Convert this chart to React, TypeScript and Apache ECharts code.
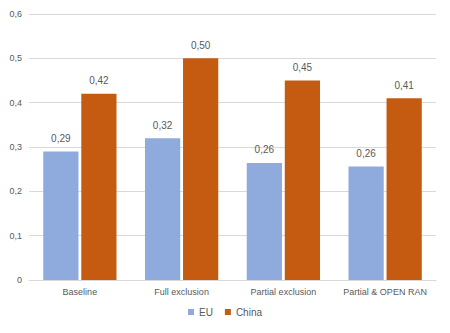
import React, { useEffect, useRef } from "react";
import * as echarts from "echarts";

const categories = ["Baseline", "Full exclusion", "Partial exclusion", "Partial & OPEN RAN"];
const euValues = [0.29, 0.32, 0.264, 0.256];
const chinaValues = [0.42, 0.5, 0.45, 0.41];
const yTicks = [0, 0.1, 0.2, 0.3, 0.4, 0.5, 0.6];

const fmt = (v: number, d: number) => v.toFixed(d).replace(".", ",");

export default function App() {
  const ref = useRef<HTMLDivElement>(null);
  useEffect(() => {
    if (!ref.current) return;
    const chart = echarts.init(ref.current, null, { renderer: "svg" });
    const font = "'Liberation Sans', Arial, sans-serif";
    chart.setOption({
      animation: false,
      textStyle: { fontFamily: font },
      grid: { left: 29, right: 14, top: 14, bottom: 53, containLabel: false },
      legend: {
        bottom: 11,
        left: "center",
        itemWidth: 6,
        itemHeight: 6,
        itemGap: 12,
        icon: "rect",
        textStyle: { color: "#595959", fontSize: 10, fontFamily: font },
        data: ["EU", "China"],
      },
      xAxis: {
        type: "category",
        data: categories,
        axisLine: { lineStyle: { color: "#d9d9d9" } },
        axisTick: { show: false },
        axisLabel: {
          color: "#595959",
          fontSize: 9,
          margin: 7,
          interval: 0,
          hideOverlap: false,
          fontFamily: font,
        },
      },
      yAxis: {
        type: "value",
        min: yTicks[0],
        max: yTicks[yTicks.length - 1],
        interval: 0.1,
        axisLine: { show: false },
        axisTick: { show: false },
        splitLine: { lineStyle: { color: "#d9d9d9" } },
        axisLabel: {
          color: "#595959",
          fontSize: 9,
          margin: 7,
          fontFamily: font,
          formatter: (v: number) => (v === 0 ? "0" : fmt(v, 1)),
        },
      },
      series: [
        {
          name: "EU",
          type: "bar",
          data: euValues,
          barGap: "8%",
          barCategoryGap: "28%",
          itemStyle: { color: "#8FAADC" },
          label: {
            show: true,
            position: "top",
            distance: 8,
            color: "#595959",
            fontSize: 10,
            fontFamily: font,
            formatter: (p: any) => fmt(p.value, 2),
          },
        },
        {
          name: "China",
          type: "bar",
          data: chinaValues,
          barGap: "8%",
          barCategoryGap: "28%",
          itemStyle: { color: "#C55A11" },
          label: {
            show: true,
            position: "top",
            distance: 8,
            color: "#595959",
            fontSize: 10,
            fontFamily: font,
            formatter: (p: any) => fmt(p.value, 2),
          },
        },
      ],
    });
    return () => chart.dispose();
  }, []);
  return <div ref={ref} style={{ width: 450, height: 333, margin: -8 }} />;
}
